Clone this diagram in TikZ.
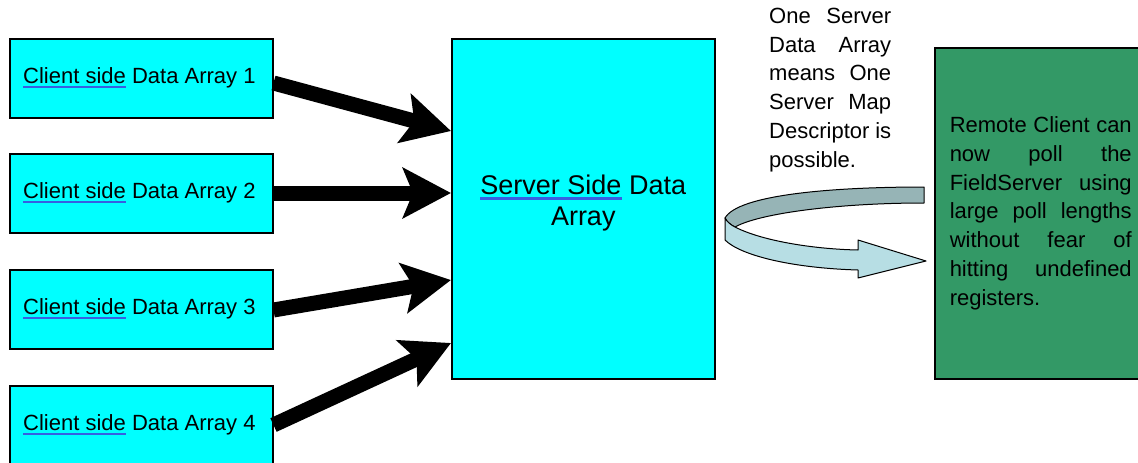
\documentclass[tikz,border=0pt]{standalone}
\usepackage{fontspec}
\setmainfont{Liberation Sans}
\usetikzlibrary{arrows.meta,calc}
\definecolor{cyanbox}{RGB}{0,255,255}
\definecolor{greenbox}{RGB}{51,153,102}
\definecolor{ulblue}{RGB}{55,95,225}
\definecolor{banddark}{RGB}{150,180,182}
\definecolor{bandlight}{RGB}{183,222,228}
\newsavebox\ulbox
\newcommand\blueul[2]{\sbox\ulbox{#2}\rlap{\color{ulblue}\rule[-#1]{\wd\ulbox}{2.4pt}}\usebox\ulbox}
\begin{document}
\begin{tikzpicture}[x=1pt,y=-1pt,
  client/.style={draw=black, line width=1.5pt, fill=cyanbox, minimum width=263pt,
    minimum height=79pt, anchor=north west, inner sep=0pt},
  clienttext/.style={anchor=west, inner sep=0pt, font=\fontsize{22}{26}\selectfont},
  serverbox/.style={draw=black, line width=1.5pt, fill=cyanbox, minimum width=263pt,
    minimum height=340pt, anchor=north west, inner sep=0pt},
  greenbox/.style={draw=black, line width=1.5pt, fill=greenbox, minimum height=331pt,
    anchor=north west, inner xsep=15pt, inner ysep=0pt, text width=182pt, align=justify,
    font=\fontsize{22}{28.8}\selectfont},
  notetext/.style={anchor=north west, inner sep=0pt, text width=122pt, align=justify,
    font=\fontsize{22}{28.7}\selectfont},
  bigarrow/.style={line width=15pt, -{Stealth[length=48pt,width=50pt,inset=10pt]}},
  band/.style={draw=black, line width=1pt, line join=round}
]
\useasboundingbox (0,0) rectangle (1138,463);

\node[client] (c1) at (9,38)  {};
\node[client] (c2) at (9,153) {};
\node[client] (c3) at (9,269) {};
\node[client] (c4) at (9,385) {};
\node[clienttext] (c1t) at ($(c1.west)+(14,0)$) {\blueul{4pt}{Client side} Data Array 1};
\node[clienttext] (c2t) at ($(c2.west)+(14,0)$) {\blueul{4pt}{Client side} Data Array 2};
\node[clienttext] (c3t) at ($(c3.west)+(14,0)$) {\blueul{4pt}{Client side} Data Array 3};
\node[clienttext] (c4t) at ($(c4.west)+(14,0)$) {\blueul{4pt}{Client side} Data Array 4};

\node[serverbox] (s) at (451,38) {};
\node[align=center, inner sep=0pt, font=\fontsize{27}{31}\selectfont] (stext)
  at ($(s.center)+(0,-5.5)$) {\blueul{5pt}{Server Side} Data\\Array};

\node[greenbox] (g) at (934,47) {Remote Client can\linebreak now poll the\linebreak FieldServer using\linebreak large poll lengths\linebreak without fear of\linebreak hitting undefined\linebreak registers.};

\node[notetext] (note) at (769,8) {One Server\linebreak Data Array\linebreak means One\linebreak Server Map\linebreak Descriptor is\linebreak possible.};

\draw[bigarrow] ($(c1.north east)+(0,45)$) -- ($(s.north west)+(0,93)$);
\draw[bigarrow] ($(c2.north east)+(0,40)$) -- ($(s.north west)+(0,155)$);
\draw[bigarrow] ($(c3.north east)+(0,41)$) -- ($(s.north west)+(0,242)$);
\draw[bigarrow] ($(c4.north east)+(0,40)$) -- ($(s.north west)+(0,305)$);

% curved ribbon arrow
\fill[banddark, band] (924,187) .. controls (830,187) and (738,195) .. (725,218)
  .. controls (727,222) and (731,225) .. (735,227)
  .. controls (760,213) and (840,203) .. (924,203) -- cycle;
\fill[bandlight, band] (725,218) .. controls (727,222) and (731,225) .. (735,227)
  .. controls (760,240) and (810,249) .. (858,250) -- (858,240) -- (926,261)
  -- (858,278) -- (858,270) .. controls (790,268) and (740,255) .. (725,240) -- cycle;
\end{tikzpicture}
\end{document}
